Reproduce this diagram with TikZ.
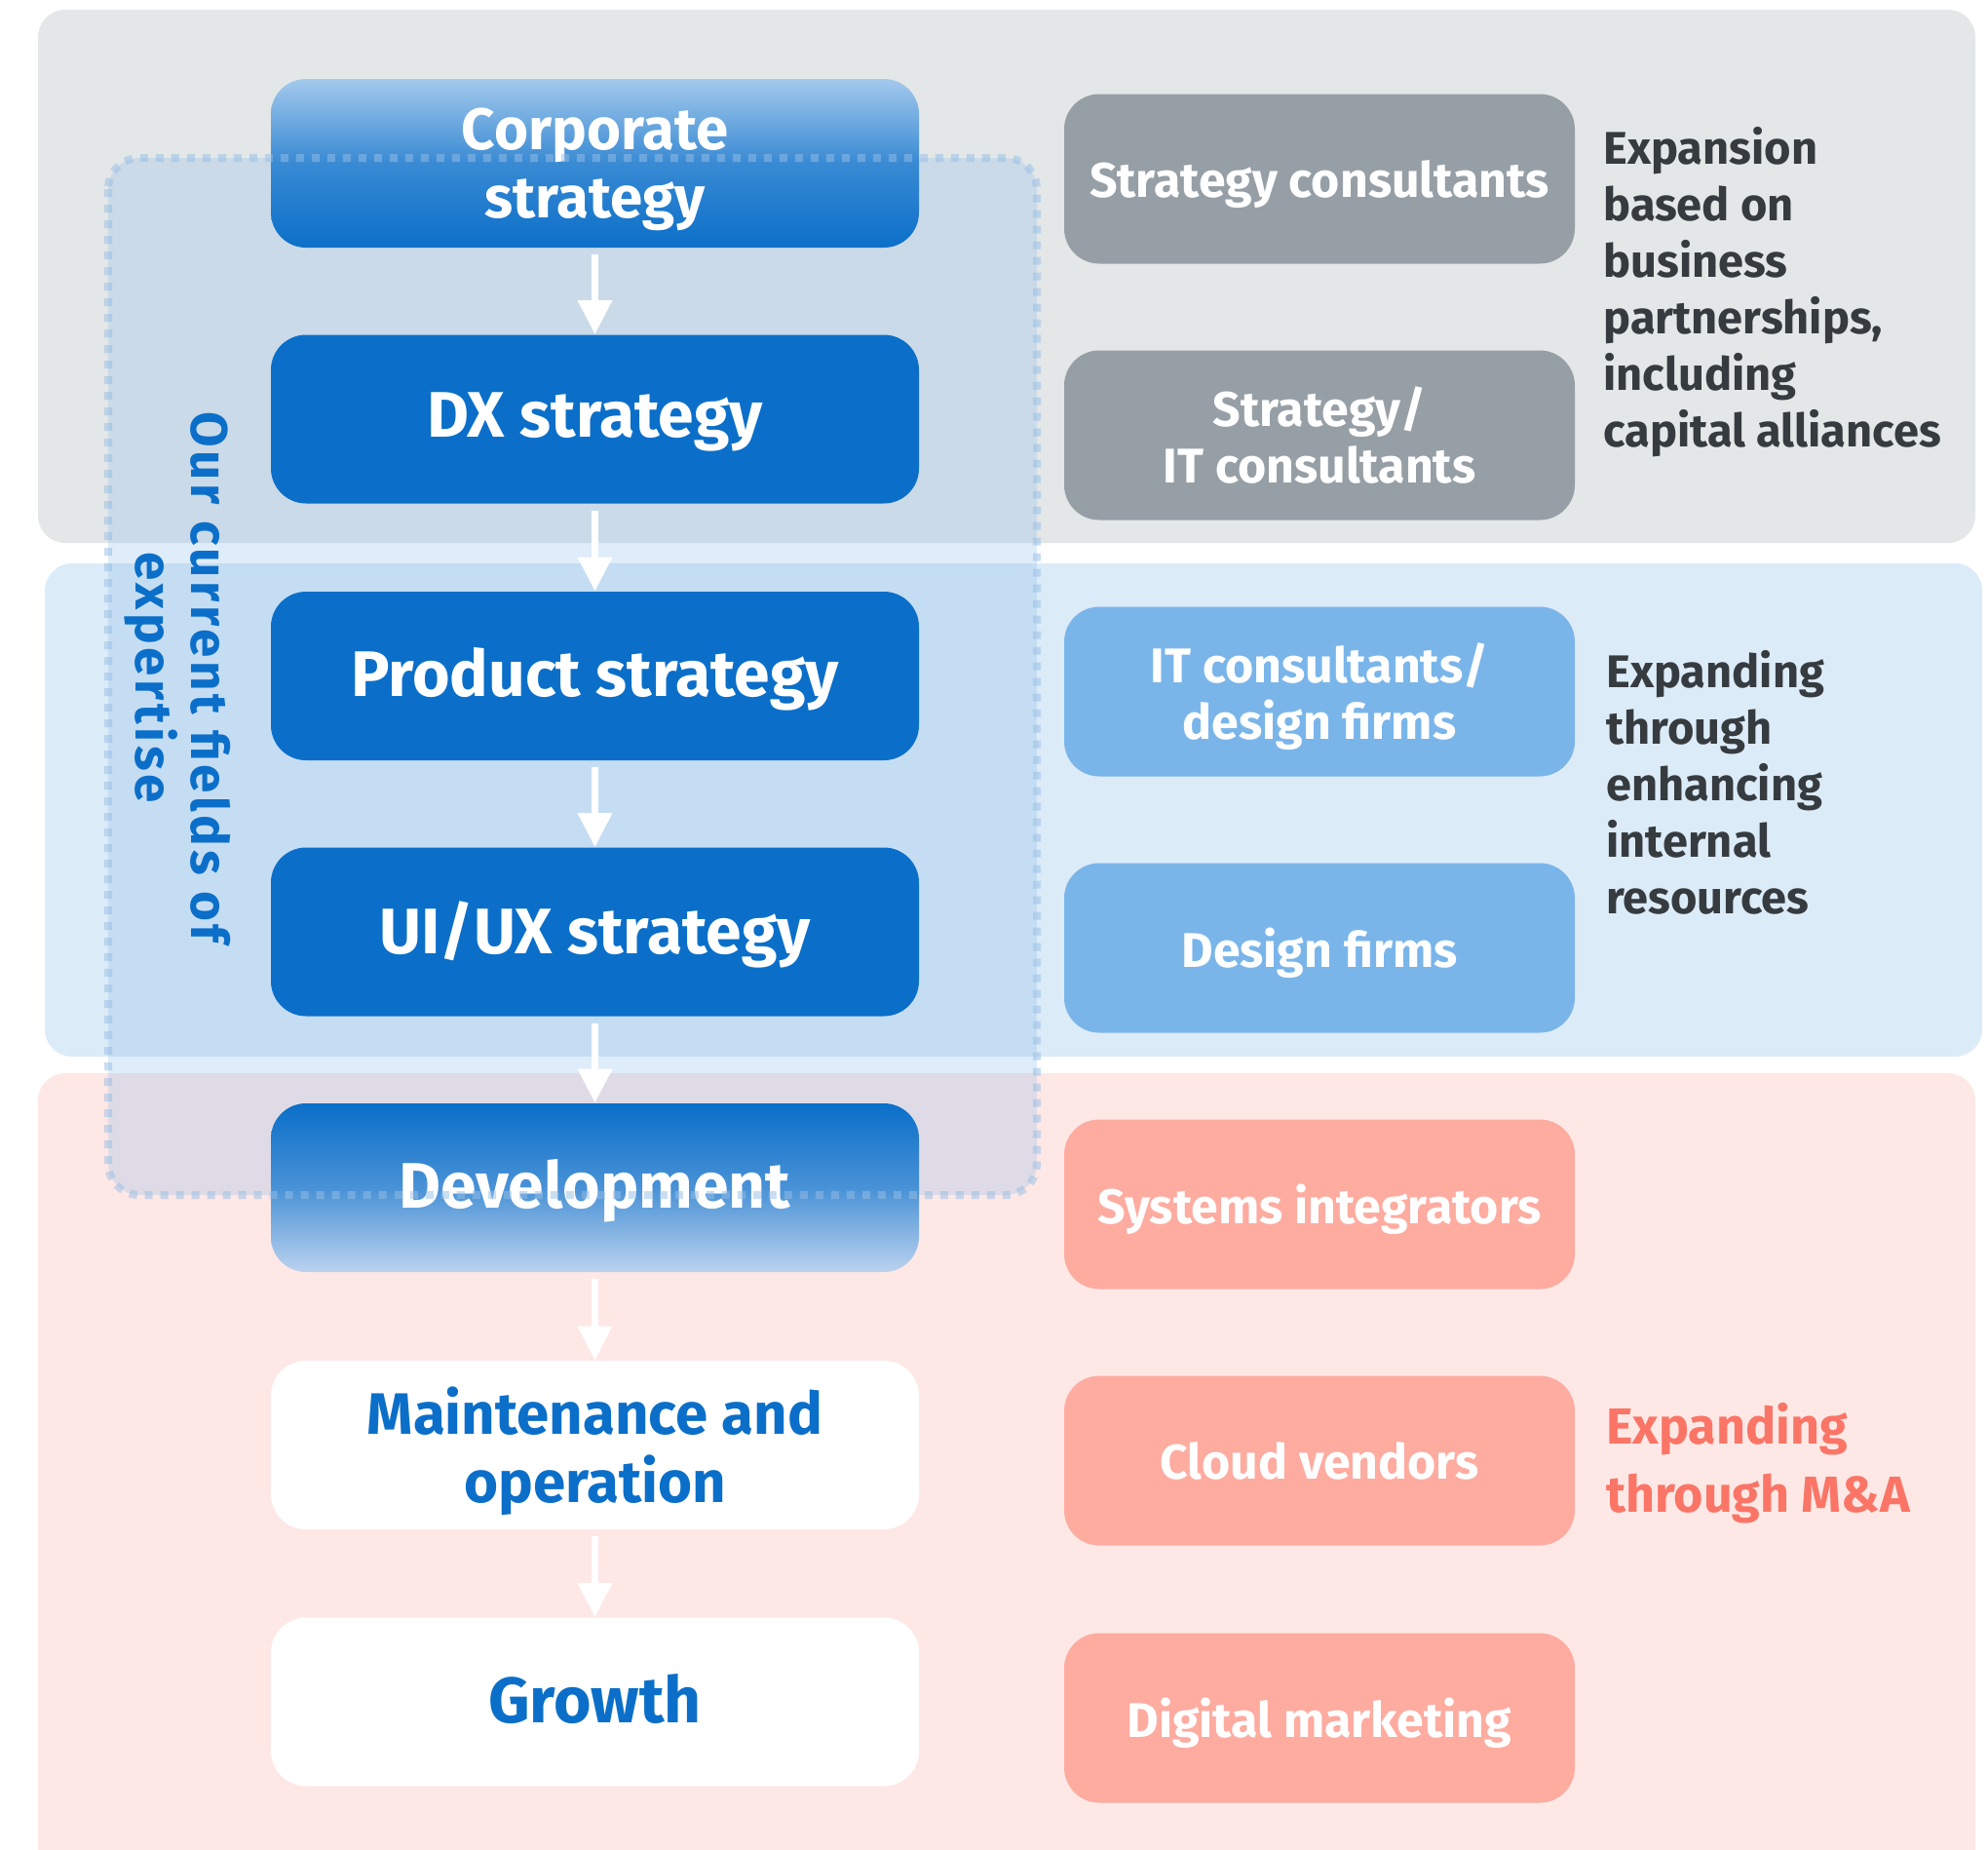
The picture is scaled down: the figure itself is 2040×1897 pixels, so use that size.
\documentclass[tikz,border=0pt]{standalone}
\usepackage{fontspec}
\setmainfont{Fira Sans}
\usetikzlibrary{arrows.meta}
\definecolor{bandgray}{RGB}{227,231,232}
\definecolor{bandblue}{RGB}{220,235,248}
\definecolor{bandpink}{RGB}{253,232,230}
\definecolor{overlaycol}{RGB}{131,183,232}
\definecolor{dotline}{RGB}{150,190,230}
\definecolor{mainblue}{RGB}{11,111,201}
\definecolor{lightblue}{RGB}{163,201,236}
\definecolor{devlight}{RGB}{187,210,238}
\definecolor{boxgray}{RGB}{151,159,166}
\definecolor{boxblue}{RGB}{122,181,234}
\definecolor{boxpink}{RGB}{254,171,160}
\definecolor{textdark}{RGB}{54,59,63}
\definecolor{textsalmon}{RGB}{250,117,102}
\begin{document}
\begin{tikzpicture}[x=0.5pt,y=-0.5pt,
  band/.style={rounded corners=14pt},
  leftbox/.style={rounded corners=18pt, minimum width=332.5pt, minimum height=86.5pt, inner sep=0pt, text depth=4pt, align=center, text=white, font=\bfseries\fontsize{33}{38}\selectfont},
  twoline/.style={text depth=0pt, font=\bfseries\fontsize{30}{35}\selectfont},
  solidbox/.style={leftbox, fill=mainblue},
  whitebox/.style={leftbox, fill=white, text=mainblue},
  rightbox/.style={rounded corners=18pt, minimum width=262pt, minimum height=87pt, inner sep=0pt, text depth=0pt, align=center, text=white, font=\bfseries\fontsize{25}{29}\selectfont},
  sidetext/.style={anchor=west, inner sep=0pt, align=left, text=textdark, font=\bfseries\fontsize{23.5}{29}\selectfont},
  flowarrow/.style={draw=white, line width=3.5pt, -{Triangle[length=17.5pt,width=17pt]}}
]
\clip (0,0) rectangle (2040,1897);
\fill[white] (0,0) rectangle (2040,1897);
\fill[bandgray, band] (39,10) rectangle (2027,557);
\fill[bandblue, band] (46,578) rectangle (2034,1084);
\fill[bandpink, band] (39,1101) rectangle (2027,1980);
\fill[overlaycol, fill opacity=0.25, rounded corners=16pt] (111,162) rectangle (1064,1226);

% left column
\node[leftbox, twoline, top color=lightblue, bottom color=mainblue, middle color=mainblue!70!lightblue] (corp) at (610.5,167.5) {Corporate\\strategy};
\node[solidbox] (dx) at (610.5,430) {DX strategy};
\node[solidbox] (prod) at (610.5,693.5) {Product strategy};
\node[solidbox] (uiux) at (610.5,956) {UI/UX strategy};
\node[leftbox, top color=mainblue, bottom color=devlight, middle color=mainblue!65!devlight] (dev) at (610.5,1218.5) {Development};
\node[whitebox, twoline] (maint) at (610.5,1482.5) {Maintenance and\\operation};
\node[whitebox] (growth) at (610.5,1746) {Growth};

\draw[flowarrow] ([yshift=-3.5pt]corp.south) -- (dx.north);
\draw[flowarrow] ([yshift=-3.5pt]dx.south) -- (prod.north);
\draw[flowarrow] ([yshift=-3.5pt]prod.south) -- (uiux.north);
\draw[flowarrow] ([yshift=-3.5pt]uiux.south) -- (dev.north);
\draw[flowarrow] ([yshift=-3.5pt]dev.south) -- (maint.north);
\draw[flowarrow] ([yshift=-3.5pt]maint.south) -- (growth.north);

% dotted expertise frame
\draw[dotline, draw opacity=0.5, line width=4pt, dash pattern=on 4pt off 4pt, rounded corners=16pt] (111,162) rectangle (1064,1226);
\node[rotate=-90, align=center, text=mainblue, font=\bfseries\fontsize{26.5}{28.5}\selectfont\addfontfeatures{LetterSpace=7}] (expert) at (182,695) {Our current fields of\\expertise};

% right column
\node[rightbox, fill=boxgray] (sc) at (1354,183.5) {Strategy consultants};
\node[rightbox, fill=boxgray] (sit) at (1354,446.5) {Strategy/\\IT consultants};
\node[rightbox, fill=boxblue] (itd) at (1354,709.5) {IT consultants/\\design firms};
\node[rightbox, fill=boxblue] (df) at (1354,972.5) {Design firms};
\node[rightbox, fill=boxpink] (si) at (1354,1235.5) {Systems integrators};
\node[rightbox, fill=boxpink] (cv) at (1354,1498.5) {Cloud vendors};
\node[rightbox, fill=boxpink] (dm) at (1354,1762.5) {Digital marketing};

\node[sidetext] (t1) at (1645,300) {Expansion\\based on\\business\\partnerships,\\including\\capital alliances};
\node[sidetext] (t2) at (1648,803) {Expanding\\through\\enhancing\\internal\\resources};
\node[sidetext, text=textsalmon, font=\bfseries\fontsize{26}{35}\selectfont] (t3) at (1648,1501) {Expanding\\through M\&A};
\end{tikzpicture}
\end{document}
